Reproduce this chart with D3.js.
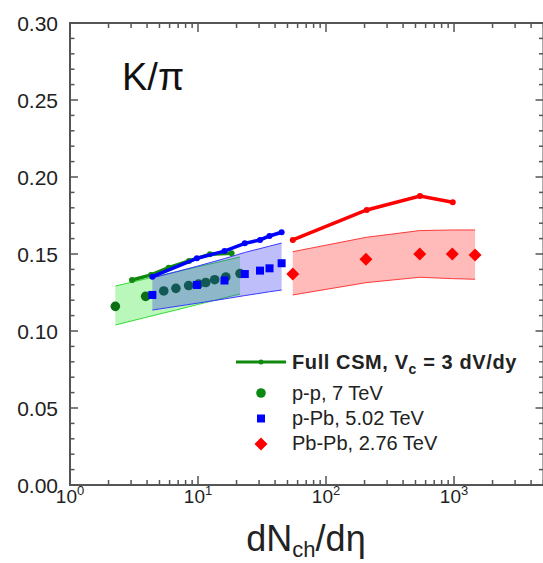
<!DOCTYPE html>
<html lang="en">
<head>
    <meta charset="UTF-8">
    <title>K/pi vs dNch/deta</title>
    <script src="https://d3js.org/d3.v7.min.js"></script>
    <style>
        body { margin: 0; background: #fff; }
        svg { display: block; font-family: "Liberation Sans", Arial, sans-serif; }
    </style>
</head>
<body>
    <svg id="chart" width="543" height="563"></svg>
    <script>
        // p-p 7 TeV data
        const ppX = [2.26, 3.9, 5.4, 6.72, 8.45, 10.1, 11.5, 13.5, 16.5, 21.3];
        const ppY = [0.116, 0.1225, 0.126, 0.1277, 0.1295, 0.1305, 0.1315, 0.1333, 0.1351, 0.1373];
        const ppBandTop = [0.1292, 0.1338, 0.1366, 0.1384, 0.1403, 0.1418, 0.1429, 0.1442, 0.1459, 0.1481];
        const ppBandBot = [0.1039, 0.1088, 0.1117, 0.1136, 0.1157, 0.1173, 0.1185, 0.1199, 0.1218, 0.1240];
        const ppCsmX = [3.05, 4.3, 5.9, 8.5, 12.4, 18.3];
        const ppCsmY = [0.1331, 0.1364, 0.1411, 0.1455, 0.1498, 0.1505];

        // p-Pb 5.02 TeV data
        const pPbX = [4.4, 9.8, 16.1, 23.2, 30.5, 36.2, 45];
        const pPbY = [0.1234, 0.1299, 0.1328, 0.1370, 0.1392, 0.1407, 0.1440];
        const pPbBandTop = [0.1344, 0.1420, 0.1470, 0.1510, 0.1535, 0.1551, 0.1571];
        const pPbBandBot = [0.1136, 0.1180, 0.1208, 0.1230, 0.1245, 0.1255, 0.1266];
        const pPbCsmY = [0.1353, 0.1472, 0.1519, 0.1569, 0.1591, 0.1617, 0.1641];

        // Pb-Pb 2.76 TeV data
        const PbPbX = [55, 205, 540, 970, 1460];
        const PbPbY = [0.137, 0.1466, 0.150, 0.150, 0.1494];
        const PbPbBandTop = [0.1515, 0.1608, 0.1652, 0.1656, 0.1656];
        const PbPbBandBot = [0.1234, 0.1314, 0.1349, 0.1340, 0.1336];
        const PbPbCsmX = [55, 208, 542, 977];
        const PbPbCsmY = [0.1591, 0.1786, 0.1877, 0.1836];

        const yTicks = [0, 0.05, 0.10, 0.15, 0.20, 0.25, 0.30];
        const xTicks = [1, 10, 100, 1000];
        const xExp = ["0", "1", "2", "3"];

        const svg = d3.select("#chart");
        const mLeft = 70, mRight = 543.5, mTop = 23, mBottom = 485;

        const x = d3.scaleLog().domain([1, 5000]).range([mLeft, mRight]);
        const y = d3.scaleLinear().domain([0, 0.3]).range([mBottom, mTop]);

        const zip = (xs, ys) => xs.map((v, i) => [v, ys[i]]);

        const area = d3.area()
            .x(d => x(d[0]))
            .y0(d => y(d[2]))
            .y1(d => y(d[1]));
        const line = d3.line().x(d => x(d[0])).y(d => y(d[1]));

        function band(xs, tops, bots, fill, stroke) {
            const pts = xs.map((v, i) => [v, tops[i], bots[i]]);
            svg.append("path").datum(pts).attr("d", area)
                .attr("fill", fill).attr("stroke", "none");
            svg.append("path").datum(zip(xs, tops)).attr("d", line)
                .attr("fill", "none").attr("stroke", stroke).attr("stroke-width", 1);
            svg.append("path").datum(zip(xs, bots)).attr("d", line)
                .attr("fill", "none").attr("stroke", stroke).attr("stroke-width", 1);
        }

        function csm(xs, ys, color) {
            svg.append("path").datum(zip(xs, ys)).attr("d", line)
                .attr("fill", "none").attr("stroke", color).attr("stroke-width", 3.5);
            svg.selectAll(null).data(zip(xs, ys)).enter().append("circle")
                .attr("cx", d => x(d[0])).attr("cy", d => y(d[1]))
                .attr("r", 3).attr("fill", color);
        }

        // green band + pp points
        band(ppX, ppBandTop, ppBandBot, "rgba(40,230,40,0.32)", "#33dd33");
        svg.selectAll(null).data(zip(ppX, ppY)).enter().append("circle")
            .attr("cx", d => x(d[0])).attr("cy", d => y(d[1]))
            .attr("r", 4.8).attr("fill", "#0a6e14");

        // blue band + p-Pb points
        band(pPbX, pPbBandTop, pPbBandBot, "rgba(40,40,240,0.3)", "#3a3aff");
        svg.selectAll(null).data(zip(pPbX, pPbY)).enter().append("rect")
            .attr("x", d => x(d[0]) - 4).attr("y", d => y(d[1]) - 4)
            .attr("width", 8).attr("height", 8).attr("fill", "#0000ff");

        // red band + Pb-Pb points
        band(PbPbX, PbPbBandTop, PbPbBandBot, "rgba(255,40,40,0.32)", "#ff3a3a");
        svg.selectAll(null).data(zip(PbPbX, PbPbY)).enter().append("path")
            .attr("transform", d => `translate(${x(d[0])},${y(d[1])})`)
            .attr("d", "M0,-6.5L6.5,0L0,6.5L-6.5,0Z").attr("fill", "#ff0000");

        // CSM curves
        csm(ppCsmX, ppCsmY, "#0f8a0f");
        csm(pPbX, pPbCsmY, "#0000ff");
        csm(PbPbCsmX, PbPbCsmY, "#ff0000");

        // frame and ticks
        const axisColor = "#555";
        svg.append("rect").attr("x", mLeft).attr("y", mTop)
            .attr("width", mRight - mLeft).attr("height", mBottom - mTop)
            .attr("fill", "none").attr("stroke", axisColor).attr("stroke-width", 2);

        const yMinor = d3.range(0, 31).map(i => i / 100);
        yMinor.forEach(v => {
            const major = Math.round(v * 100) % 5 === 0;
            const len = major ? 8 : 4.5;
            svg.append("line").attr("x1", mLeft).attr("x2", mLeft + len)
                .attr("y1", y(v)).attr("y2", y(v)).attr("stroke", axisColor).attr("stroke-width", 1.5);
            svg.append("line").attr("x1", mRight).attr("x2", mRight - len)
                .attr("y1", y(v)).attr("y2", y(v)).attr("stroke", axisColor).attr("stroke-width", 1.5);
        });

        const xAll = [];
        [1, 10, 100, 1000].forEach(d => { for (let k = 1; k <= 9; k++) if (d * k <= 5000) xAll.push(d * k); });
        xAll.forEach(v => {
            const major = xTicks.includes(v);
            const len = major ? 9 : 5;
            svg.append("line").attr("x1", x(v)).attr("x2", x(v))
                .attr("y1", mBottom).attr("y2", mBottom - len).attr("stroke", axisColor).attr("stroke-width", 1.5);
            svg.append("line").attr("x1", x(v)).attr("x2", x(v))
                .attr("y1", mTop).attr("y2", mTop + len).attr("stroke", axisColor).attr("stroke-width", 1.5);
        });

        // tick labels
        svg.selectAll(null).data(yTicks).enter().append("text")
            .attr("x", mLeft - 12).attr("y", d => y(d)).attr("dy", "0.36em")
            .attr("text-anchor", "end").attr("font-size", 21).attr("fill", "#222")
            .text(d => d.toFixed(2));

        xTicks.forEach((v, i) => {
            const t = svg.append("text").attr("x", x(v)).attr("y", 503)
                .attr("text-anchor", "middle").attr("font-size", 19).attr("fill", "#222");
            t.append("tspan").text("10");
            t.append("tspan").attr("dy", -8).attr("font-size", 13).text(xExp[i]);
        });

        // axis title
        const xt = svg.append("text").attr("x", 306).attr("y", 551)
            .attr("text-anchor", "middle").attr("font-size", 36).attr("fill", "#222");
        xt.append("tspan").text("dN");
        xt.append("tspan").attr("dy", 6).attr("font-size", 22).text("ch");
        xt.append("tspan").attr("dy", -6).text("/dη");

        svg.append("text").attr("x", 122).attr("y", 90)
            .attr("font-size", 38).attr("fill", "#111").text("K/π");

        // legend
        const lx = 292;
        svg.append("line").attr("x1", 236).attr("x2", 286).attr("y1", 362).attr("y2", 362)
            .attr("stroke", "#0f8a0f").attr("stroke-width", 3);
        svg.append("circle").attr("cx", 261).attr("cy", 362).attr("r", 2.5).attr("fill", "#0f8a0f");
        const l1 = svg.append("text").attr("x", lx).attr("y", 369)
            .attr("font-size", 20).attr("font-weight", "bold").attr("fill", "#222")
            .attr("letter-spacing", 0.6);
        l1.append("tspan").text("Full CSM, V");
        l1.append("tspan").attr("dy", 5).attr("font-size", 14).text("c");
        l1.append("tspan").attr("dy", -5).text(" = 3 dV/dy");

        svg.append("circle").attr("cx", 261).attr("cy", 393).attr("r", 4.8).attr("fill", "#0a8a14");
        svg.append("rect").attr("x", 257).attr("y", 414.5).attr("width", 8).attr("height", 8).attr("fill", "#0000ff");
        svg.append("path").attr("transform", "translate(261,444)")
            .attr("d", "M0,-6.5L6.5,0L0,6.5L-6.5,0Z").attr("fill", "#ff0000");

        const legendLabels = ["p-p, 7 TeV", "p-Pb, 5.02 TeV", "Pb-Pb, 2.76 TeV"];
        const legendY = [400, 425, 450];
        legendLabels.forEach((s, i) => {
            svg.append("text").attr("x", lx).attr("y", legendY[i])
                .attr("font-size", 20).attr("fill", "#222").text(s);
        });
    </script>
</body>
</html>
